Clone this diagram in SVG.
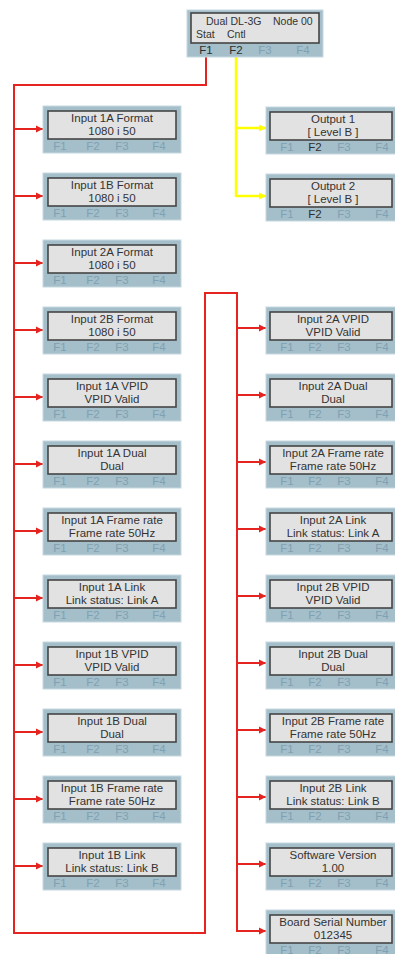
<svg xmlns="http://www.w3.org/2000/svg" width="395" height="954" viewBox="0 0 395 954">
<defs>
<style>
.box{fill:#a4bfca;stroke:#c6d8e0;stroke-width:1}
.disp{fill:#e2e2e2;stroke:#454545;stroke-width:1.6}
.t{font-family:"Liberation Sans",Arial,sans-serif;font-size:11.5px;fill:#333;text-anchor:middle}
.tl{font-family:"Liberation Sans",Arial,sans-serif;font-size:10.5px;fill:#333}
.f{font-family:"Liberation Sans",Arial,sans-serif;font-size:11.5px;fill:#7fa1b3;text-anchor:middle}
.fd{fill:#2e2e2e}
.red{fill:none;stroke:#e52420;stroke-width:2}
.yel{fill:none;stroke:#ffff00;stroke-width:2.5}
</style>
<marker id="ar" markerUnits="userSpaceOnUse" markerWidth="8" markerHeight="8" refX="7" refY="4" orient="auto"><path d="M0,0.5 L7,4 L0,7.5 z" fill="#e52420"/></marker>
<marker id="ay" markerUnits="userSpaceOnUse" markerWidth="8" markerHeight="8" refX="7" refY="4" orient="auto"><path d="M0,0.5 L7,4 L0,7.5 z" fill="#ffff00"/></marker>
<g id="tplL">
<rect class="box" x="0" y="0" width="138" height="47"/>
<rect class="disp" x="5" y="5" width="128" height="28"/>
</g>
<g id="tplR">
<rect class="box" x="0" y="0" width="132" height="47"/>
<rect class="disp" x="4" y="5" width="122" height="28"/>
</g>
</defs>
<rect width="395" height="954" fill="#fff"/>

<g id="connectors">
<path class="red" d="M206,57 V85 H14 V933 H205 V293 H237 V932"/>
<path class="red" marker-end="url(#ar)" d="M14,129 H43"/>
<path class="red" marker-end="url(#ar)" d="M14,196 H43"/>
<path class="red" marker-end="url(#ar)" d="M14,263 H43"/>
<path class="red" marker-end="url(#ar)" d="M14,330 H43"/>
<path class="red" marker-end="url(#ar)" d="M14,397 H43"/>
<path class="red" marker-end="url(#ar)" d="M14,464 H43"/>
<path class="red" marker-end="url(#ar)" d="M14,531 H43"/>
<path class="red" marker-end="url(#ar)" d="M14,598 H43"/>
<path class="red" marker-end="url(#ar)" d="M14,665 H43"/>
<path class="red" marker-end="url(#ar)" d="M14,732 H43"/>
<path class="red" marker-end="url(#ar)" d="M14,799 H43"/>
<path class="red" marker-end="url(#ar)" d="M14,866 H43"/>
<path class="red" marker-end="url(#ar)" d="M237,328 H266"/>
<path class="red" marker-end="url(#ar)" d="M237,395 H266"/>
<path class="red" marker-end="url(#ar)" d="M237,462 H266"/>
<path class="red" marker-end="url(#ar)" d="M237,529 H266"/>
<path class="red" marker-end="url(#ar)" d="M237,596 H266"/>
<path class="red" marker-end="url(#ar)" d="M237,663 H266"/>
<path class="red" marker-end="url(#ar)" d="M237,730 H266"/>
<path class="red" marker-end="url(#ar)" d="M237,797 H266"/>
<path class="red" marker-end="url(#ar)" d="M237,864 H266"/>
<path class="red" marker-end="url(#ar)" d="M237,931 H266"/>
<path class="yel" d="M236,57 V197"/>
<path class="yel" marker-end="url(#ay)" d="M236,128 H266"/>
<path class="yel" marker-end="url(#ay)" d="M236,196 H266"/>
</g>

<g id="main">
<rect class="box" x="187" y="10" width="136" height="47"/>
<rect class="disp" x="191" y="13" width="128" height="30"/>
<text class="tl" x="206" y="25">Dual DL-3G</text>
<text class="tl" x="273" y="25">Node 00</text>
<text class="tl" x="196" y="38">Stat</text>
<text class="tl" x="227" y="38">Cntl</text>
<text class="f fd" x="206" y="54" font-size="12.5">F1</text>
<text class="f fd" x="236" y="54" font-size="12.5">F2</text>
<text class="f" x="265" y="54" font-size="12.5">F3</text>
<text class="f" x="303" y="54" font-size="12.5">F4</text>
</g>

<g id="in1a-format" transform="translate(43,106)">
<use href="#tplL"/>
<text class="t" x="69" y="16">Input 1A Format</text><text class="t" x="69" y="29">1080 i 50</text>
<text class="f" x="17" y="44">F1</text><text class="f" x="50" y="44">F2</text><text class="f" x="79" y="44">F3</text><text class="f" x="116" y="44">F4</text>
</g>
<g id="in1b-format" transform="translate(43,173)">
<use href="#tplL"/>
<text class="t" x="69" y="16">Input 1B Format</text><text class="t" x="69" y="29">1080 i 50</text>
<text class="f" x="17" y="44">F1</text><text class="f" x="50" y="44">F2</text><text class="f" x="79" y="44">F3</text><text class="f" x="116" y="44">F4</text>
</g>
<g id="in2a-format" transform="translate(43,240)">
<use href="#tplL"/>
<text class="t" x="69" y="16">Input 2A Format</text><text class="t" x="69" y="29">1080 i 50</text>
<text class="f" x="17" y="44">F1</text><text class="f" x="50" y="44">F2</text><text class="f" x="79" y="44">F3</text><text class="f" x="116" y="44">F4</text>
</g>
<g id="in2b-format" transform="translate(43,307)">
<use href="#tplL"/>
<text class="t" x="69" y="16">Input 2B Format</text><text class="t" x="69" y="29">1080 i 50</text>
<text class="f" x="17" y="44">F1</text><text class="f" x="50" y="44">F2</text><text class="f" x="79" y="44">F3</text><text class="f" x="116" y="44">F4</text>
</g>
<g id="in1a-vpid" transform="translate(43,374)">
<use href="#tplL"/>
<text class="t" x="69" y="16">Input 1A VPID</text><text class="t" x="69" y="29">VPID Valid</text>
<text class="f" x="17" y="44">F1</text><text class="f" x="50" y="44">F2</text><text class="f" x="79" y="44">F3</text><text class="f" x="116" y="44">F4</text>
</g>
<g id="in1a-dual" transform="translate(43,441)">
<use href="#tplL"/>
<text class="t" x="69" y="16">Input 1A Dual</text><text class="t" x="69" y="29">Dual</text>
<text class="f" x="17" y="44">F1</text><text class="f" x="50" y="44">F2</text><text class="f" x="79" y="44">F3</text><text class="f" x="116" y="44">F4</text>
</g>
<g id="in1a-framerate" transform="translate(43,508)">
<use href="#tplL"/>
<text class="t" x="69" y="16">Input 1A Frame rate</text><text class="t" x="69" y="29">Frame rate 50Hz</text>
<text class="f" x="17" y="44">F1</text><text class="f" x="50" y="44">F2</text><text class="f" x="79" y="44">F3</text><text class="f" x="116" y="44">F4</text>
</g>
<g id="in1a-link" transform="translate(43,575)">
<use href="#tplL"/>
<text class="t" x="69" y="16">Input 1A Link</text><text class="t" x="69" y="29">Link status: Link A</text>
<text class="f" x="17" y="44">F1</text><text class="f" x="50" y="44">F2</text><text class="f" x="79" y="44">F3</text><text class="f" x="116" y="44">F4</text>
</g>
<g id="in1b-vpid" transform="translate(43,642)">
<use href="#tplL"/>
<text class="t" x="69" y="16">Input 1B VPID</text><text class="t" x="69" y="29">VPID Valid</text>
<text class="f" x="17" y="44">F1</text><text class="f" x="50" y="44">F2</text><text class="f" x="79" y="44">F3</text><text class="f" x="116" y="44">F4</text>
</g>
<g id="in1b-dual" transform="translate(43,709)">
<use href="#tplL"/>
<text class="t" x="69" y="16">Input 1B Dual</text><text class="t" x="69" y="29">Dual</text>
<text class="f" x="17" y="44">F1</text><text class="f" x="50" y="44">F2</text><text class="f" x="79" y="44">F3</text><text class="f" x="116" y="44">F4</text>
</g>
<g id="in1b-framerate" transform="translate(43,776)">
<use href="#tplL"/>
<text class="t" x="69" y="16">Input 1B Frame rate</text><text class="t" x="69" y="29">Frame rate 50Hz</text>
<text class="f" x="17" y="44">F1</text><text class="f" x="50" y="44">F2</text><text class="f" x="79" y="44">F3</text><text class="f" x="116" y="44">F4</text>
</g>
<g id="in1b-link" transform="translate(43,843)">
<use href="#tplL"/>
<text class="t" x="69" y="16">Input 1B Link</text><text class="t" x="69" y="29">Link status: Link B</text>
<text class="f" x="17" y="44">F1</text><text class="f" x="50" y="44">F2</text><text class="f" x="79" y="44">F3</text><text class="f" x="116" y="44">F4</text>
</g>

<g id="output1" transform="translate(266,107)">
<use href="#tplR"/>
<text class="t" x="67" y="16">Output 1</text><text class="t" x="67" y="29">[ Level B ]</text>
<text class="f" x="21" y="44">F1</text><text class="f fd" x="49" y="44">F2</text><text class="f" x="78" y="44">F3</text><text class="f" x="116" y="44">F4</text>
</g>
<g id="output2" transform="translate(266,174)">
<use href="#tplR"/>
<text class="t" x="67" y="16">Output 2</text><text class="t" x="67" y="29">[ Level B ]</text>
<text class="f" x="21" y="44">F1</text><text class="f fd" x="49" y="44">F2</text><text class="f" x="78" y="44">F3</text><text class="f" x="116" y="44">F4</text>
</g>

<g id="in2a-vpid" transform="translate(266,307)">
<use href="#tplR"/>
<text class="t" x="67" y="16">Input 2A VPID</text><text class="t" x="67" y="29">VPID Valid</text>
<text class="f" x="21" y="44">F1</text><text class="f" x="49" y="44">F2</text><text class="f" x="78" y="44">F3</text><text class="f" x="116" y="44">F4</text>
</g>
<g id="in2a-dual" transform="translate(266,374)">
<use href="#tplR"/>
<text class="t" x="67" y="16">Input 2A Dual</text><text class="t" x="67" y="29">Dual</text>
<text class="f" x="21" y="44">F1</text><text class="f" x="49" y="44">F2</text><text class="f" x="78" y="44">F3</text><text class="f" x="116" y="44">F4</text>
</g>
<g id="in2a-framerate" transform="translate(266,441)">
<use href="#tplR"/>
<text class="t" x="67" y="16">Input 2A Frame rate</text><text class="t" x="67" y="29">Frame rate 50Hz</text>
<text class="f" x="21" y="44">F1</text><text class="f" x="49" y="44">F2</text><text class="f" x="78" y="44">F3</text><text class="f" x="116" y="44">F4</text>
</g>
<g id="in2a-link" transform="translate(266,508)">
<use href="#tplR"/>
<text class="t" x="67" y="16">Input 2A Link</text><text class="t" x="67" y="29">Link status: Link A</text>
<text class="f" x="21" y="44">F1</text><text class="f" x="49" y="44">F2</text><text class="f" x="78" y="44">F3</text><text class="f" x="116" y="44">F4</text>
</g>
<g id="in2b-vpid" transform="translate(266,575)">
<use href="#tplR"/>
<text class="t" x="67" y="16">Input 2B VPID</text><text class="t" x="67" y="29">VPID Valid</text>
<text class="f" x="21" y="44">F1</text><text class="f" x="49" y="44">F2</text><text class="f" x="78" y="44">F3</text><text class="f" x="116" y="44">F4</text>
</g>
<g id="in2b-dual" transform="translate(266,642)">
<use href="#tplR"/>
<text class="t" x="67" y="16">Input 2B Dual</text><text class="t" x="67" y="29">Dual</text>
<text class="f" x="21" y="44">F1</text><text class="f" x="49" y="44">F2</text><text class="f" x="78" y="44">F3</text><text class="f" x="116" y="44">F4</text>
</g>
<g id="in2b-framerate" transform="translate(266,709)">
<use href="#tplR"/>
<text class="t" x="67" y="16">Input 2B Frame rate</text><text class="t" x="67" y="29">Frame rate 50Hz</text>
<text class="f" x="21" y="44">F1</text><text class="f" x="49" y="44">F2</text><text class="f" x="78" y="44">F3</text><text class="f" x="116" y="44">F4</text>
</g>
<g id="in2b-link" transform="translate(266,776)">
<use href="#tplR"/>
<text class="t" x="67" y="16">Input 2B Link</text><text class="t" x="67" y="29">Link status: Link B</text>
<text class="f" x="21" y="44">F1</text><text class="f" x="49" y="44">F2</text><text class="f" x="78" y="44">F3</text><text class="f" x="116" y="44">F4</text>
</g>
<g id="sw-version" transform="translate(266,843)">
<use href="#tplR"/>
<text class="t" x="67" y="16">Software Version</text><text class="t" x="67" y="29">1.00</text>
<text class="f" x="21" y="44">F1</text><text class="f" x="49" y="44">F2</text><text class="f" x="78" y="44">F3</text><text class="f" x="116" y="44">F4</text>
</g>
<g id="board-serial" transform="translate(266,910)">
<use href="#tplR"/>
<text class="t" x="67" y="16">Board Serial Number</text><text class="t" x="67" y="29">012345</text>
<text class="f" x="21" y="44">F1</text><text class="f" x="49" y="44">F2</text><text class="f" x="78" y="44">F3</text><text class="f" x="116" y="44">F4</text>
</g>
</svg>
